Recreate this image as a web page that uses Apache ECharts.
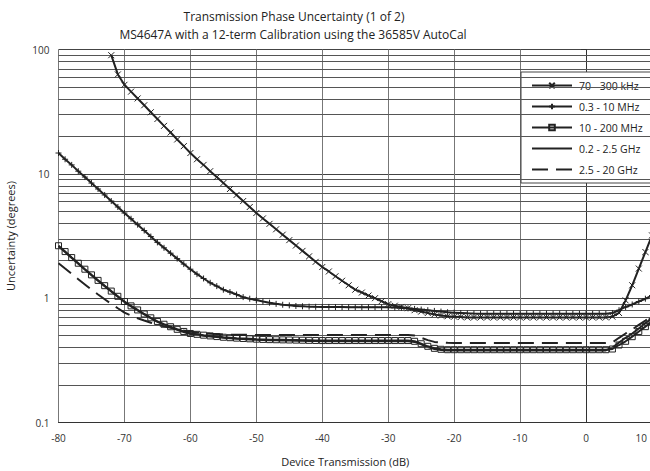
<!DOCTYPE html>
<html><head><meta charset="utf-8">
<script src="https://cdn.jsdelivr.net/npm/echarts@6/dist/echarts.min.js"></script>
<style>html,body{margin:0;padding:0;background:#fff}#c{width:650px;height:471px}</style>
</head><body><div id="c"></div>
<script>
// Device transmission (dB), -80 .. 10 in 1 dB steps
const xDb = [-80,-79,-78,-77,-76,-75,-74,-73,-72,-71,-70,-69,-68,-67,-66,-65,-64,-63,-62,-61,-60,
  -59,-58,-57,-56,-55,-54,-53,-52,-51,-50,-49,-48,-47,-46,-45,-44,-43,-42,-41,-40,
  -39,-38,-37,-36,-35,-34,-33,-32,-31,-30,-29,-28,-27,-26,-25,-24,-23,-22,-21,-20,
  -19,-18,-17,-16,-15,-14,-13,-12,-11,-10,-9,-8,-7,-6,-5,-4,-3,-2,-1,0,
  1,2,3,4,5,6,7,8,9,10];

const seriesNames = ['70 - 300 kHz','0.3 - 10 MHz','10 - 200 MHz','0.2 - 2.5 GHz','2.5 - 20 GHz'];

const khz70 = [null,null,null,null,null,null,null,null,
  90,63,52,45.8,40.4,35.6,31.3,27.6,24.3,21.5,18.9,16.7,14.7,
  13.1,11.8,10.5,9.42,8.43,7.55,6.76,6.04,5.41,4.84,4.38,3.96,3.58,3.24,2.93,2.65,2.40,2.17,1.96,1.78,
  1.64,1.50,1.38,1.27,1.17,1.11,1.05,1.00,0.945,0.895,
  0.87,0.85,0.83,0.80,0.78,0.76,0.74,0.725,0.715,0.71,0.705,
  0.70,0.70,0.70,0.70,0.70,0.70,0.70,0.70,0.70,0.70,0.70,0.70,0.70,0.70,0.70,0.70,0.70,0.70,0.70,0.70,0.70,0.70,
  0.71,0.76,0.96,1.27,1.73,2.35,3.2];

const mhz03 = [14.7,13.1,11.8,10.5,9.42,8.43,7.55,6.76,6.04,5.41,4.84,
  4.35,3.90,3.50,3.13,2.81,2.54,2.30,2.08,1.88,1.71,1.56,1.44,1.33,1.25,1.17,1.12,1.07,1.02,0.99,0.965,
  0.94,0.92,0.90,0.885,0.875,0.865,0.86,0.855,0.852,0.85,0.85,0.848,0.848,0.847,0.847,0.846,0.846,0.846,0.845,
  0.845,0.84,0.835,0.828,0.82,0.81,0.80,0.79,0.78,0.77,0.765,0.76,0.755,0.752,
  0.75,0.75,0.75,0.75,0.75,0.75,0.75,0.75,0.75,0.75,0.75,0.75,0.75,0.75,0.75,0.75,0.75,0.75,0.75,0.75,
  0.76,0.80,0.85,0.89,0.94,0.99,1.05];

const mhz10 = [2.64,2.37,2.12,1.91,1.71,1.54,1.39,1.26,1.14,1.035,0.94,0.867,0.804,0.746,0.695,0.650,0.617,0.589,0.562,0.540,0.520,
  0.512,0.504,0.497,0.491,0.485,0.481,0.477,0.474,0.471,0.468,0.466,0.464,0.463,0.462,0.461,0.460,0.459,0.458,0.457,0.456,
  0.456,0.456,0.456,0.456,0.456,0.456,0.456,0.456,0.456,0.456,0.456,0.456,0.456,
  0.45,0.43,0.41,0.395,0.388,0.385,
  0.385,0.385,0.385,0.385,0.385,0.385,0.385,0.385,0.385,0.385,0.385,0.385,0.385,0.385,0.385,0.385,0.385,0.385,0.385,0.385,0.385,0.385,0.385,0.385,
  0.39,0.42,0.45,0.49,0.54,0.59,0.65];

const ghz02 = [2.62,2.35,2.10,1.89,1.70,1.53,1.38,1.25,1.13,1.025,0.93,0.86,0.797,0.74,0.69,0.645,0.612,0.584,0.557,0.535,0.515,
  0.507,0.499,0.492,0.486,0.480,0.476,0.472,0.469,0.466,0.463,0.461,0.459,0.458,0.457,0.456,0.455,0.454,0.453,0.452,0.451,
  0.45,0.45,0.45,0.45,0.45,0.45,0.45,0.45,0.45,0.45,0.45,0.45,0.45,
  0.445,0.425,0.405,0.39,0.383,0.38,
  0.38,0.38,0.38,0.38,0.38,0.38,0.38,0.38,0.38,0.38,0.38,0.38,0.38,0.38,0.38,0.38,0.38,0.38,0.38,0.38,0.38,0.38,0.38,0.38,
  0.40,0.44,0.48,0.52,0.57,0.63,0.69];

const ghz25 = [1.91,1.73,1.57,1.42,1.29,1.17,1.07,0.98,0.90,0.83,0.766,0.724,0.690,0.661,0.634,0.610,0.593,0.577,0.562,0.549,0.538,
  0.530,0.523,0.518,0.514,0.511,0.509,0.508,0.507,0.507,0.506,0.506,0.506,0.506,0.506,0.506,0.506,0.506,0.506,0.506,0.506,
  0.506,0.506,0.506,0.506,0.506,0.506,0.506,0.506,0.506,0.506,0.506,0.506,0.506,
  0.50,0.48,0.46,0.445,0.44,0.437,
  0.435,0.435,0.435,0.435,0.435,0.435,0.435,0.435,0.435,0.435,0.435,0.435,0.435,0.435,0.435,0.435,0.435,0.435,0.435,0.435,0.435,0.435,0.435,0.435,
  0.44,0.48,0.52,0.56,0.61,0.66,0.72];

const xTicks = {min: -80, max: 10, interval: 10};
const yTicks = {min: 0.1, max: 100};
const minorGrid = [0.2,0.3,0.4,0.5,0.6,0.7,0.8,0.9,2,3,4,5,6,7,8,9,20,30,40,50,60,70,80,90];

const FONT = 'Open Sans';
const INK = '#222';
const pair = arr => xDb.map((x, i) => [x, arr[i]]);

const xSym = 'path://M0,0L8,8M8,0L0,8';
const plusSym = 'path://M4,0L4,8M0,4L8,4';
const sqSym = 'path://M0,0L8,0L8,8L0,8Z';
const noSym = 'path://M0,0L1,0L1,1L0,1Z';

const chart = echarts.init(document.getElementById('c'), null, {renderer: 'svg'});
chart.setOption({
  animation: false,
  backgroundColor: '#fff',
  textStyle: {fontFamily: FONT},
  title: [
    {text: 'Transmission Phase Uncertainty (1 of 2)', left: 289, top: 5, textAlign: 'center',
     textStyle: {fontFamily: FONT, fontSize: 12, fontWeight: 'normal', color: INK}},
    {text: 'MS4647A with a 12-term Calibration using the 36585V AutoCal', left: 288, top: 23, textAlign: 'center',
     textStyle: {fontFamily: FONT, fontSize: 12, fontWeight: 'normal', color: INK}}
  ],
  grid: {left: 58.5, right: -2, top: 49.5, bottom: 48.5, containLabel: false, outerBoundsMode: 'none'},
  legend: {
    orient: 'vertical', left: 521, top: 72,
    padding: [8, 14, 8, 10], itemWidth: 40, itemHeight: 7, itemGap: 10,
    backgroundColor: '#fff', borderColor: '#444', borderWidth: 1, borderRadius: 0,
    textStyle: {fontFamily: FONT, fontSize: 10.5, color: INK, padding: [0, 0, 0, 2]},
    data: seriesNames
  },
  xAxis: {
    type: 'value', min: xTicks.min, max: xTicks.max, interval: xTicks.interval,
    name: 'Device Transmission (dB)', nameLocation: 'middle', nameGap: 33,
    nameTextStyle: {fontFamily: FONT, fontSize: 11, color: INK, padding: [0, 20, 0, 0]},
    axisLine: {onZero: false, lineStyle: {color: '#333', width: 1}},
    axisTick: {show: false},
    axisLabel: {fontFamily: FONT, fontSize: 10, color: '#333', margin: 10, alignMaxLabel: 'right',
      formatter: v => v === xTicks.max ? '{r|' + v + '}' : String(v),
      rich: {r: {fontFamily: FONT, fontSize: 10, color: '#333', padding: [0, 5, 0, 0]}}},
    splitLine: {show: true, lineStyle: {color: '#777', width: 1}}
  },
  yAxis: {
    type: 'log', logBase: 10, min: yTicks.min, max: yTicks.max,
    name: 'Uncertainty (degrees)', nameLocation: 'middle', nameGap: 43,
    nameTextStyle: {fontFamily: FONT, fontSize: 11, color: INK},
    axisLine: {show: true, lineStyle: {color: '#333', width: 1}},
    axisTick: {show: true, length: 5, lineStyle: {color: '#333'}},
    axisLabel: {fontFamily: FONT, fontSize: 10, color: '#333', margin: 9},
    splitLine: {show: true, lineStyle: {color: '#444', width: 1}},
    minorTick: {show: false}
  },
  series: [
    {name: 'grid', type: 'line', data: [], silent: true,
     markLine: {silent: true, symbol: 'none', label: {show: false},
       lineStyle: {color: '#555', width: 1, type: 'solid'},
       data: minorGrid.map(v => ({yAxis: v}))}},
    {name: seriesNames[0], type: 'line', data: pair(khz70), symbol: xSym, symbolSize: 6, showAllSymbol: true,
     lineStyle: {color: INK, width: 2}, itemStyle: {color: 'rgba(0,0,0,0)', borderColor: INK, borderWidth: 1}, z: 5},
    {name: seriesNames[1], type: 'line', data: pair(mhz03), symbol: plusSym, symbolSize: 6, showAllSymbol: true,
     lineStyle: {color: INK, width: 2}, itemStyle: {color: 'rgba(0,0,0,0)', borderColor: INK, borderWidth: 1}, z: 5},
    {name: seriesNames[3], type: 'line', data: pair(ghz02), symbol: noSym, showSymbol: false,
     lineStyle: {color: INK, width: 2}, itemStyle: {color: 'rgba(0,0,0,0)', borderColor: 'rgba(0,0,0,0)', borderWidth: 0}, z: 4},
    {name: seriesNames[2], type: 'line', data: pair(mhz10), symbol: sqSym, symbolSize: 6, showAllSymbol: true,
     lineStyle: {color: INK, width: 2}, itemStyle: {color: 'rgba(0,0,0,0)', borderColor: INK, borderWidth: 1}, z: 5},
    {name: seriesNames[4], type: 'line', data: pair(ghz25), symbol: noSym, showSymbol: false,
     lineStyle: {color: INK, width: 2, type: [16, 8]}, itemStyle: {color: 'rgba(0,0,0,0)', borderColor: 'rgba(0,0,0,0)', borderWidth: 0}, z: 5}
  ]
});
</script>
</body></html>
